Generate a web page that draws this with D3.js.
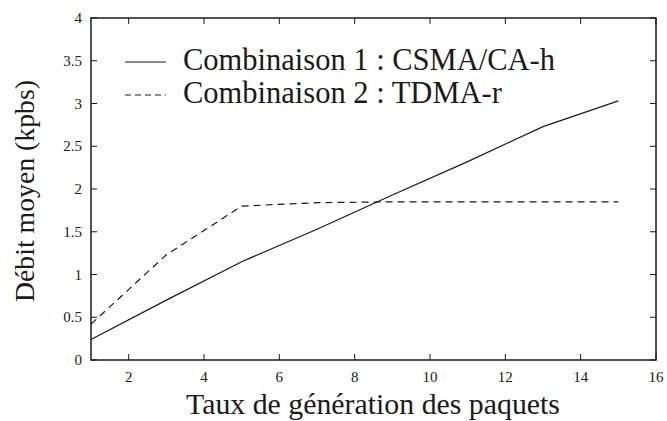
<!DOCTYPE html>
<html><head><meta charset="utf-8">
<script src="https://cdn.jsdelivr.net/npm/d3@7/dist/d3.min.js"></script>
</head><body style="margin:0"><svg id="c" width="667" height="421" font-family="Liberation Serif" style="display:block;background:#fff;font-family:'Liberation Serif'"></svg>
<script>
const xValues = [1, 3, 5, 7, 9, 11, 13, 15];
const csmaValues = [0.24, 0.70, 1.15, 1.53, 1.93, 2.32, 2.73, 3.03];
const tdmaValues = [0.42, 1.23, 1.80, 1.84, 1.85, 1.85, 1.85, 1.85];
const xTicks = [2, 4, 6, 8, 10, 12, 14, 16];
const yTicks = [0, 0.5, 1, 1.5, 2, 2.5, 3, 3.5, 4];
const seriesNames = ["Combinaison 1 : CSMA/CA-h", "Combinaison 2 : TDMA-r"];
const xTitle = "Taux de génération des paquets";
const yTitle = "Débit moyen (kpbs)";

const svg = d3.select("#c");
const L = 91, R = 656, T = 18, B = 360;
const x = d3.scaleLinear().domain([1, 16]).range([L, R]);
const y = d3.scaleLinear().domain([0, 4]).range([B, T]);
const ink = "#1a1a1a";
function txt(sel, size) { return sel.style("font-size", size + "px").attr("fill", ink); }
function fit(sel, target) {
  const w = sel.node().getComputedTextLength();
  const s = parseFloat(sel.style("font-size"));
  sel.style("font-size", (s * target / w) + "px");
  return sel;
}

xTicks.forEach(v => {
  svg.append("line").attr("x1", x(v)).attr("x2", x(v)).attr("y1", B).attr("y2", B - 6).attr("stroke", ink).attr("stroke-width", 1);
  svg.append("line").attr("x1", x(v)).attr("x2", x(v)).attr("y1", T).attr("y2", T + 6).attr("stroke", ink).attr("stroke-width", 1);
  txt(svg.append("text"), 15).attr("x", x(v)).attr("y", B + 22).attr("text-anchor", "middle").text(d3.format("d")(v));
});
yTicks.forEach(v => {
  svg.append("line").attr("x1", L).attr("x2", L + 6).attr("y1", y(v)).attr("y2", y(v)).attr("stroke", ink).attr("stroke-width", 1);
  svg.append("line").attr("x1", R).attr("x2", R - 6).attr("y1", y(v)).attr("y2", y(v)).attr("stroke", ink).attr("stroke-width", 1);
  txt(svg.append("text"), 15).attr("x", L - 9).attr("y", y(v) + 5).attr("text-anchor", "end").text(String(v));
});
svg.append("rect").attr("x", L).attr("y", T).attr("width", R - L).attr("height", B - T)
  .attr("fill", "none").attr("stroke", ink).attr("stroke-width", 1.5);

const line = d3.line().x(d => x(d[0])).y(d => y(d[1]));
svg.append("path").datum(xValues.map((v, i) => [v, csmaValues[i]]))
  .attr("d", line).attr("fill", "none").attr("stroke", ink).attr("stroke-width", 1.2);
svg.append("path").datum(xValues.map((v, i) => [v, tdmaValues[i]]))
  .attr("d", line).attr("fill", "none").attr("stroke", ink).attr("stroke-width", 1.2).attr("stroke-dasharray", "7,5");

const dashes = [null, "6,4"];
let legendSize = null;
seriesNames.forEach((name, i) => {
  const ly = 62 + i * 33;
  svg.append("line").attr("x1", 125).attr("x2", 166).attr("y1", ly).attr("y2", ly)
    .attr("stroke", ink).attr("stroke-width", 1.1).attr("stroke-dasharray", dashes[i]);
  const t = txt(svg.append("text"), 22).attr("x", 183).attr("y", ly + 8).text(name);
  if (i === 0) { fit(t, 372); legendSize = t.style("font-size"); }
  else t.style("font-size", legendSize);
});

fit(txt(svg.append("text"), 22).attr("x", 373).attr("y", 414).attr("text-anchor", "middle").text(xTitle), 374);
fit(txt(svg.append("text"), 22).attr("transform", `translate(34,191) rotate(-90)`).attr("text-anchor", "middle").text(yTitle), 222);
</script></body></html>
